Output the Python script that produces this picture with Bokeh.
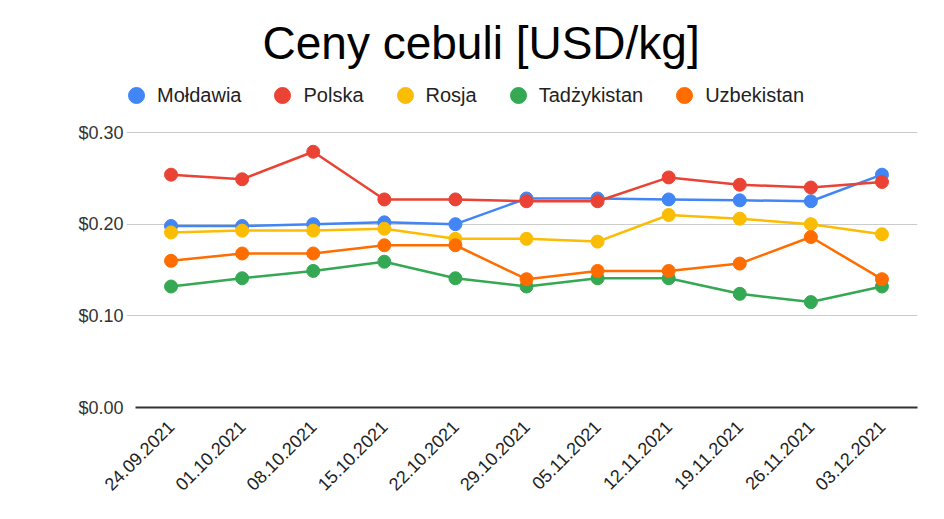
from bokeh.plotting import figure
from bokeh.models import (Range1d, FixedTicker, NumeralTickFormatter,
                          Legend, LegendItem, ColumnDataSource)
from bokeh.embed import file_html
from bokeh.resources import INLINE
import math

dates = ["24.09.2021", "01.10.2021", "08.10.2021", "15.10.2021", "22.10.2021",
         "29.10.2021", "05.11.2021", "12.11.2021", "19.11.2021", "26.11.2021",
         "03.12.2021"]

moldawia = [0.198, 0.198, 0.200, 0.202, 0.200, 0.228, 0.228, 0.227, 0.226, 0.225, 0.254]
polska = [0.254, 0.249, 0.279, 0.227, 0.227, 0.225, 0.225, 0.251, 0.243, 0.240, 0.246]
rosja = [0.191, 0.193, 0.193, 0.195, 0.184, 0.184, 0.181, 0.210, 0.206, 0.200, 0.189]
tadzykistan = [0.132, 0.141, 0.149, 0.159, 0.141, 0.132, 0.141, 0.141, 0.124, 0.115, 0.132]
uzbekistan = [0.160, 0.168, 0.168, 0.177, 0.177, 0.140, 0.149, 0.149, 0.157, 0.186, 0.140]

series_names = ["Mołdawia", "Polska", "Rosja", "Tadżykistan", "Uzbekistan"]
series_values = [moldawia, polska, rosja, tadzykistan, uzbekistan]
colors = ["#4285F4", "#EA4335", "#FBBC04", "#34A853", "#FF6D01"]
y_ticks = [0.0, 0.1, 0.2, 0.3]

FONT = "Liberation Sans"
xs = list(range(len(dates)))

# frame spans x=126..917 px (71.09 px per date), y=70..407 px (0.30 at y=132)
left_extra = 9 / (782 / 11)
p = figure(x_range=Range1d(-0.5 - left_extra, len(dates) - 0.5),
           y_range=Range1d(0, 0.3 + 0.3 * 62 / 275),
           frame_width=791, frame_height=337,
           min_border_left=126, min_border_right=27, min_border_bottom=10,
           min_border_top=70,
           output_backend="svg", toolbar_location=None,
           background_fill_color="white", border_fill_color="white",
           outline_line_color=None)

p.title.text = "Ceny cebuli [USD/kg]"
p.title.align = "left"
p.title.offset = 136
p.title.standoff = 3
p.title.text_font = FONT
p.title.text_font_size = "46px"
p.title.text_font_style = "normal"
p.title.text_color = "#000000"

items = []
for name, vals, col in zip(series_names, series_values, colors):
    src = ColumnDataSource(dict(x=xs, y=vals))
    p.line("x", "y", source=src, line_color=col, line_width=2.5)
    r = p.scatter("x", "y", source=src, size=13, fill_color=col, line_color=col)
    items.append(LegendItem(label=name, renderers=[r]))

legend = Legend(items=items, orientation="horizontal", location=(-10, 292),
                glyph_width=40, glyph_height=40, label_standoff=1, spacing=21,
                padding=0, margin=0, border_line_color=None,
                background_fill_alpha=0,
                label_text_font=FONT, label_text_font_size="20px",
                label_text_color="#222222")
p.add_layout(legend, "center")

p.xgrid.grid_line_color = None
p.ygrid.grid_line_color = "#cccccc"
p.ygrid.grid_line_width = 1
p.yaxis.ticker = FixedTicker(ticks=y_ticks)
p.yaxis.formatter = NumeralTickFormatter(format="$0.00")
p.yaxis.axis_line_color = None
p.yaxis.major_tick_line_color = None
p.yaxis.minor_tick_line_color = None
p.yaxis.major_label_text_font = FONT
p.yaxis.major_label_text_font_size = "18px"
p.yaxis.major_label_text_color = "#333333"
p.yaxis.major_label_standoff = -3

p.xaxis.ticker = FixedTicker(ticks=xs)
p.xaxis.major_label_overrides = {i: d for i, d in zip(xs, dates)}
p.xaxis.bounds = (-0.5, len(dates) - 0.5)
p.xaxis.axis_line_color = "#333333"
p.xaxis.axis_line_width = 2
p.xaxis.major_tick_line_color = None
p.xaxis.minor_tick_line_color = None
p.xaxis.major_label_orientation = math.pi / 4
p.xaxis.major_label_text_font = FONT
p.xaxis.major_label_text_font_size = "18px"
p.xaxis.major_label_text_color = "#222222"
p.xaxis.major_label_standoff = 10

open("out.html", "w").write(file_html(p, INLINE))
